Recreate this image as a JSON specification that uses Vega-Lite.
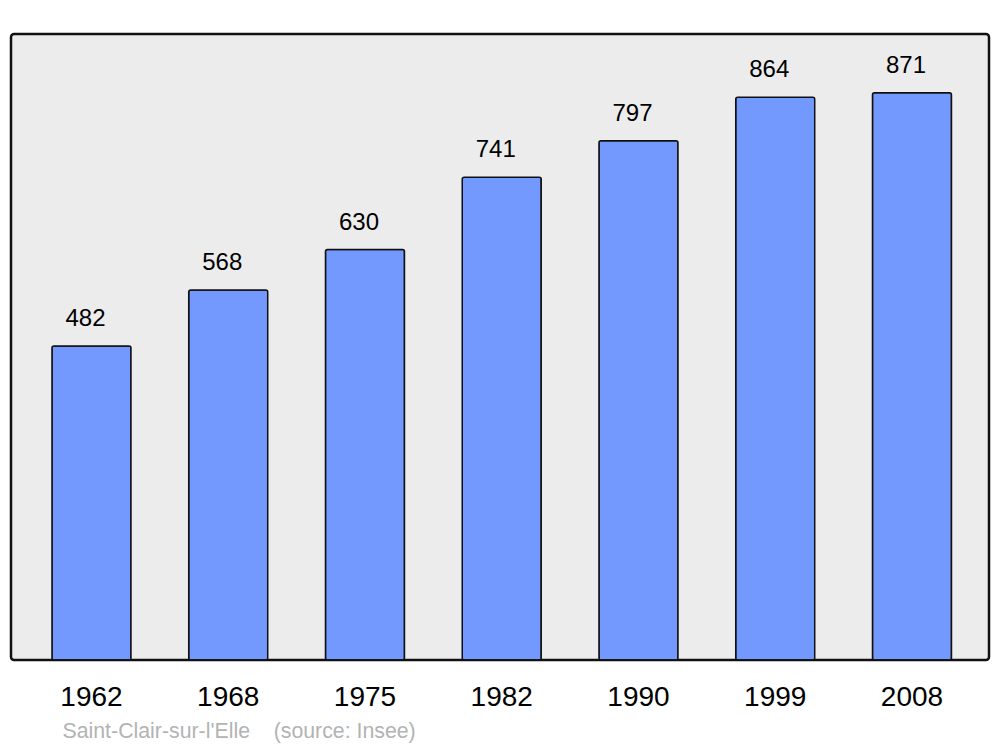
{
  "$schema": "https://vega.github.io/schema/vega-lite/v6.json",
  "width": 978,
  "height": 626,
  "autosize": {"type": "none"},
  "padding": {"left": 11, "top": 34, "right": 11, "bottom": 87},
  "background": "white",
  "config": {
    "font": "Liberation Sans",
    "view": {"fill": "#ececec", "stroke": "#111111", "strokeWidth": 2.5, "cornerRadius": 3}
  },
  "data": {
    "values": [
      {"year": "1962", "pop": 482},
      {"year": "1968", "pop": 568},
      {"year": "1975", "pop": 630},
      {"year": "1982", "pop": 741},
      {"year": "1990", "pop": 797},
      {"year": "1999", "pop": 864},
      {"year": "2008", "pop": 871}
    ]
  },
  "encoding": {
    "x": {
      "field": "year",
      "type": "nominal",
      "sort": null,
      "scale": {"paddingInner": 0.4223, "paddingOuter": 0.287, "align": 0.522},
      "axis": {
        "title": "Saint-Clair-sur-l'Elle\u00a0\u00a0\u00a0\u00a0(source: Insee)",
        "titleX": 51,
        "titleY": 77,
        "titleAlign": "left",
        "titleAnchor": null,
        "titleBaseline": "alphabetic",
        "titleFontSize": 21.3,
        "titleFontWeight": "normal",
        "titleColor": "#b3b3b3",
        "titleFont": "Liberation Sans",
        "labelAngle": 0,
        "labelFontSize": 28,
        "labelColor": "#000000",
        "labelBaseline": "alphabetic",
        "labelPadding": 45,
        "ticks": false,
        "tickSize": 0,
        "domain": false,
        "grid": false
      }
    },
    "y": {
      "field": "pop",
      "type": "quantitative",
      "scale": {"domain": [0, 961], "nice": false, "zero": true},
      "axis": null
    }
  },
  "layer": [
    {
      "mark": {"type": "bar", "fill": "#7399ff", "stroke": "#111111", "strokeWidth": 1.5, "cornerRadius": 2}
    },
    {
      "mark": {"type": "text", "fontSize": 24, "color": "#000000", "baseline": "alphabetic", "dy": -20, "dx": -6, "font": "Liberation Sans"},
      "encoding": {"text": {"field": "pop", "type": "quantitative"}}
    }
  ]
}
